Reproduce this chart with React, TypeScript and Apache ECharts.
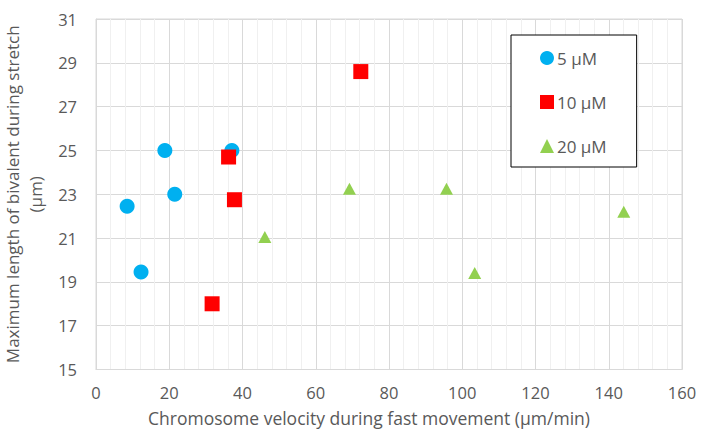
import React, { useEffect, useRef } from "react";
import * as echarts from "echarts";

const seriesNames = ["5 µM", "10 µM", "20 µM"];
const velocity5 = [18.8, 37.1, 21.5, 8.5, 12.3];
const length5 = [25.0, 25.0, 23.0, 22.45, 19.45];
const velocity10 = [72.3, 36.2, 37.8, 31.7];
const length10 = [28.6, 24.7, 22.75, 18.0];
const velocity20 = [46.1, 69.2, 95.7, 103.4, 144.1];
const length20 = [21.05, 23.25, 23.25, 19.4, 22.2];

const zip = (xs: number[], ys: number[]) => xs.map((x, i) => [x, ys[i]]);

const FONT = "Open Sans";
const TEXT = "#595959";

export default function App() {
  const ref = useRef<HTMLDivElement>(null);
  useEffect(() => {
    if (!ref.current) return;
    const chart = echarts.init(ref.current, undefined, { renderer: "svg" });
    chart.setOption({
      animation: false,
      textStyle: { fontFamily: FONT },
      grid: {
        left: 96,
        right: 19,
        top: 19,
        bottom: 62.5,
        show: true,
        borderColor: "#d9d9d9",
        borderWidth: 1,
        containLabel: false,
        outerBoundsMode: "none",
      },
      legend: {
        orient: "vertical",
        left: 511,
        top: 35,
        data: seriesNames,
        itemWidth: 14,
        itemHeight: 14,
        itemGap: 24,
        padding: [13, 30, 11, 29],
        borderColor: "#000",
        borderWidth: 1,
        backgroundColor: "#fff",
        textStyle: { fontFamily: FONT, fontSize: 17, lineHeight: 20, color: TEXT, padding: [0, 0, 0, -2] },
      },
      xAxis: {
        type: "value",
        min: 0,
        max: 160,
        interval: 20,
        name: "Chromosome velocity during fast movement (µm/min)",
        nameLocation: "middle",
        nameGap: 39,
        nameTextStyle: { fontFamily: FONT, fontSize: 17.5, color: TEXT, padding: [0, 40, 0, 0] },
        axisLine: { show: true, lineStyle: { color: "#d9d9d9" } },
        axisTick: { show: false },
        axisLabel: { fontFamily: FONT, fontSize: 16.5, color: TEXT, margin: 14 },
        splitLine: { show: true, lineStyle: { color: "#d9d9d9", width: 1 } },
        minorTick: { show: false, splitNumber: 5 },
        minorSplitLine: { show: true, lineStyle: { color: "#f0f0f0", width: 1 } },
      },
      yAxis: {
        type: "value",
        min: 15,
        max: 31,
        interval: 2,
        name: "Maximum length of bivalent during stretch\n(µm)",
        nameLocation: "middle",
        nameRotate: 90,
        nameGap: 40,
        nameTextStyle: { fontFamily: FONT, fontSize: 17, color: TEXT, lineHeight: 23, align: "center" },
        axisLine: { show: true, lineStyle: { color: "#d9d9d9" } },
        axisTick: { show: false },
        axisLabel: { fontFamily: FONT, fontSize: 16.5, color: TEXT, margin: 19 },
        splitLine: { show: true, lineStyle: { color: "#d9d9d9", width: 1 } },
      },
      series: [
        {
          name: seriesNames[0],
          type: "scatter",
          symbol: "circle",
          symbolSize: 15,
          itemStyle: { color: "#00b0f0", opacity: 1 },
          data: zip(velocity5, length5),
        },
        {
          name: seriesNames[1],
          type: "scatter",
          symbol: "rect",
          symbolSize: 15,
          itemStyle: { color: "#ff0000", opacity: 1 },
          data: zip(velocity10, length10),
        },
        {
          name: seriesNames[2],
          type: "scatter",
          symbol: "triangle",
          symbolSize: [13, 12],
          itemStyle: { color: "#92d050", opacity: 1 },
          data: zip(velocity20, length20),
        },
      ],
    });
    return () => chart.dispose();
  }, []);
  return <div ref={ref} style={{ width: 701, height: 432, position: "absolute", left: 0, top: 0 }} />;
}
